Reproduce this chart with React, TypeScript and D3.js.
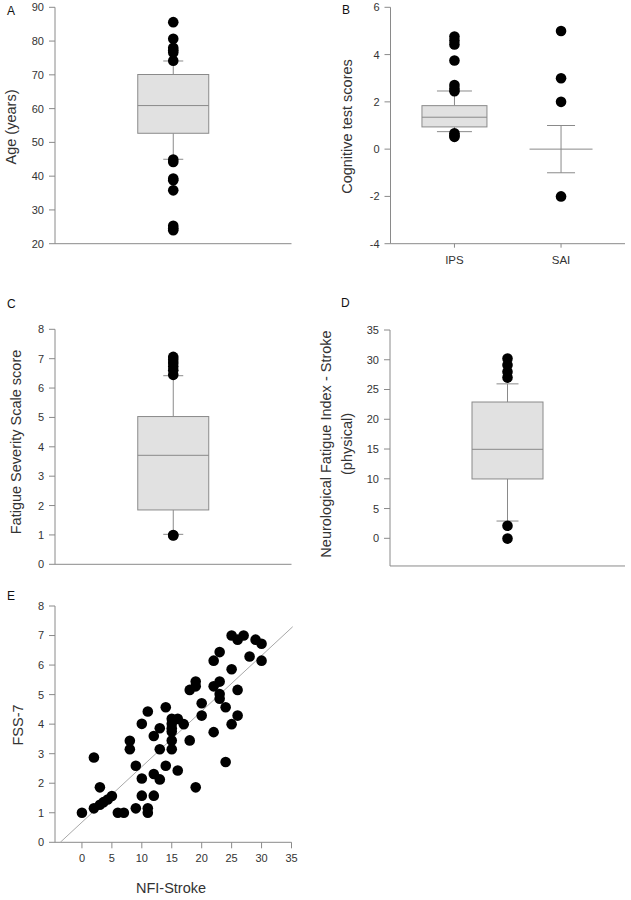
import React from "react";
import * as d3 from "d3";

const FONT = '"Liberation Sans", Arial, Helvetica, sans-serif';
const AXIS = "#8a8a8a";
const TEXT = "#333333";
const BOX_FILL = "#e1e1e1";

// Panel A: Age
const ageTicks = [20, 30, 40, 50, 60, 70, 80, 90];
const ageBox = [45.0, 52.7, 60.9, 70.1, 74.1]; // low whisker, Q1, median, Q3, high whisker
const ageOutliers = [85.6, 80.7, 78.0, 77.3, 76.6, 74.2, 44.9, 44.2, 39.3, 38.8, 35.8, 25.3, 24.6, 24.0];

// Panel B: Cognitive test scores
const cogCategories = ["IPS", "SAI"];
const cogTicks = [-4, -2, 0, 2, 4, 6];
const ipsBox = [0.74, 0.94, 1.35, 1.84, 2.46];
const ipsOutliers = [4.76, 4.6, 4.43, 3.75, 2.71, 2.57, 2.45, 0.67, 0.58, 0.52];
const saiSummary = [-1, 0, 1]; // low, centre, high
const saiOutliers = [5, 3, 2, -2];

// Panel C: Fatigue Severity Scale
const fssTicks = [0, 1, 2, 3, 4, 5, 6, 7, 8];
const fssBox = [1.02, 1.85, 3.71, 5.03, 6.42];
const fssOutliers = [7.06, 6.96, 6.85, 6.73, 6.61, 6.45, 1.0, 0.98];

// Panel D: NFI-Stroke physical
const nfiTicks = [0, 5, 10, 15, 20, 25, 30, 35];
const nfiBox = [2.9, 9.97, 14.95, 22.9, 25.95];
const nfiOutliers = [30.2, 29.1, 28.0, 27.0, 2.1, -0.05];

// Panel E: scatter
const scatterXTicks = [0, 5, 10, 15, 20, 25, 30, 35];
const scatterYTicks = [0, 1, 2, 3, 4, 5, 6, 7, 8];
const scatterNFI = [
  0, 2, 2, 3, 3, 3.6, 4.3, 5, 6, 7, 8, 8, 9, 9, 10, 10, 10, 11, 11, 11, 12, 12, 12,
  13, 13, 13, 14, 14, 15, 15, 15, 15, 15, 15, 16, 16, 17, 18, 18, 19, 19, 19, 20, 20,
  22, 22, 22, 23, 23, 23, 23, 24, 24, 25, 25, 25, 26, 26, 26, 27, 28, 29, 30, 30,
];
const scatterFSS = [
  1.0, 2.87, 1.15, 1.86, 1.27, 1.36, 1.45, 1.57, 1.0, 1.0, 3.44, 3.15, 2.59, 1.15, 4.01, 2.16, 1.58, 4.43, 1.15, 1.0, 3.6, 2.31, 1.58,
  3.86, 3.15, 2.13, 4.57, 2.59, 4.18, 4.01, 3.86, 3.75, 3.45, 3.15, 4.18, 2.43, 4.0, 5.16, 3.45, 5.44, 5.28, 1.86, 4.71, 4.29,
  6.15, 5.28, 3.73, 6.44, 5.44, 5.02, 4.86, 4.57, 2.72, 7.0, 5.86, 4.0, 6.86, 5.16, 4.29, 7.0, 6.29, 6.86, 6.72, 6.15,
];
const fitIntercept = 0.68;
const fitSlope = 0.188;

type Sc = d3.ScaleLinear<number, number>;

function YAxis({ scale, ticks, x, top, bottom }: { scale: Sc; ticks: number[]; x: number; top: number; bottom: number }) {
  return (
    <g>
      <line x1={x} x2={x} y1={top} y2={bottom} stroke={AXIS} strokeWidth={1} />
      {ticks.map((t) => (
        <g key={t}>
          <line x1={x - 6} x2={x} y1={scale(t)} y2={scale(t)} stroke={AXIS} strokeWidth={1} />
          <text x={x - 11} y={scale(t)} dy="0.36em" textAnchor="end" fontSize={11} fill={TEXT} fontFamily={FONT}>
            {t}
          </text>
        </g>
      ))}
    </g>
  );
}

function PanelLetter({ x, y, label }: { x: number; y: number; label: string }) {
  return (
    <text x={x} y={y} fontSize={12} fill="#111" fontFamily={FONT}>
      {label}
    </text>
  );
}

function YTitle({ x, y, lines }: { x: number; y: number; lines: { text: string; dx: number }[] }) {
  return (
    <g>
      {lines.map((l, i) => (
        <text
          key={i}
          transform={`translate(${x + l.dx},${y}) rotate(-90)`}
          textAnchor="middle"
          dy="0.35em"
          fontSize={14.5}
          fill={TEXT}
          fontFamily={FONT}
        >
          {l.text}
        </text>
      ))}
    </g>
  );
}

function BoxPlot({ cx, half, cap, stats, outliers, y, r }: { cx: number; half: number; cap: number; stats: number[]; outliers: number[]; y: Sc; r: number }) {
  const [lo, q1, med, q3, hi] = stats;
  return (
    <g>
      <line x1={cx} x2={cx} y1={y(hi)} y2={y(q3)} stroke={AXIS} />
      <line x1={cx} x2={cx} y1={y(q1)} y2={y(lo)} stroke={AXIS} />
      <line x1={cx - cap} x2={cx + cap} y1={y(hi)} y2={y(hi)} stroke={AXIS} />
      <line x1={cx - cap} x2={cx + cap} y1={y(lo)} y2={y(lo)} stroke={AXIS} />
      <rect x={cx - half} y={y(q3)} width={half * 2} height={y(q1) - y(q3)} fill={BOX_FILL} stroke={AXIS} />
      <line x1={cx - half} x2={cx + half} y1={y(med)} y2={y(med)} stroke={AXIS} />
      {outliers.map((v, i) => (
        <circle key={i} cx={cx} cy={y(v)} r={r} fill="#000" />
      ))}
    </g>
  );
}

export default function App() {
  // Panel A
  const axA = 55;
  const xRightA = 291.5;
  const yA = d3.scaleLinear().domain([20, 90]).range([243.7, 7.3]);
  const cxA = (axA + xRightA) / 2;

  // Panel B
  const axB = 390.5;
  const xRightB = 625;
  const yB = d3.scaleLinear().domain([-4, 6]).range([243.7, 7.3]);
  const xB = d3.scalePoint<string>().domain(cogCategories).range([axB, xRightB]).padding(0.6);
  const ipsX = xB("IPS") as number;
  const saiX = xB("SAI") as number;

  // Panel C
  const yC = d3.scaleLinear().domain([0, 8]).range([564.3, 329.3]);
  const cxC = (axA + xRightA) / 2;

  // Panel D
  const axD = 390;
  const yD = d3.scaleLinear().domain([0, 35]).range([538.3, 330]);
  const dBottom = yD(-4.65);
  const cxD = (axD + xRightB) / 2;

  // Panel E
  const yE = d3.scaleLinear().domain([0, 8]).range([842.3, 606]);
  const xE = d3.scaleLinear().domain([-4.5, 35]).range([axA, xRightA]);
  const fitX0 = -fitIntercept / fitSlope;
  const fitX1 = 35.2;
  const fitLine = d3
    .line<number>()
    .x((d) => xE(d))
    .y((d) => yE(fitIntercept + fitSlope * d))([fitX0, fitX1]);

  const R = 5.3;

  return (
    <svg
      width={631}
      height={900}
      viewBox="0 0 631 900"
      style={{ position: "absolute", left: 0, top: 0, background: "#fff" }}
      fontFamily={FONT}
    >
      <rect x={0} y={0} width={631} height={900} fill="#fff" />

      {/* Panel A */}
      <PanelLetter x={7} y={14.5} label="A" />
      <YAxis scale={yA} ticks={ageTicks} x={axA} top={yA(90)} bottom={yA(20)} />
      <line x1={axA} x2={xRightA} y1={yA(20)} y2={yA(20)} stroke={AXIS} />
      <YTitle x={11} y={127} lines={[{ text: "Age (years)", dx: 0 }]} />
      <BoxPlot cx={cxA} half={35.5} cap={10} stats={ageBox} outliers={ageOutliers} y={yA} r={R} />

      {/* Panel B */}
      <PanelLetter x={342} y={14} label="B" />
      <YAxis scale={yB} ticks={cogTicks} x={axB} top={yB(6)} bottom={yB(-4)} />
      <line x1={axB} x2={xRightB} y1={yB(-4)} y2={yB(-4)} stroke={AXIS} />
      {cogCategories.map((c) => (
        <g key={c}>
          <line x1={xB(c)} x2={xB(c)} y1={yB(-4)} y2={yB(-4) + 4} stroke={AXIS} />
          <text x={xB(c)} y={264} textAnchor="middle" fontSize={11.5} fill={TEXT} fontFamily={FONT}>
            {c}
          </text>
        </g>
      ))}
      <YTitle x={347} y={126.5} lines={[{ text: "Cognitive test scores", dx: 0 }]} />
      <BoxPlot cx={ipsX} half={32.5} cap={17.5} stats={ipsBox} outliers={ipsOutliers} y={yB} r={R} />
      <g>
        <line x1={saiX} x2={saiX} y1={yB(saiSummary[2])} y2={yB(saiSummary[0])} stroke={AXIS} />
        <line x1={saiX - 14} x2={saiX + 14} y1={yB(saiSummary[2])} y2={yB(saiSummary[2])} stroke={AXIS} />
        <line x1={saiX - 14} x2={saiX + 14} y1={yB(saiSummary[0])} y2={yB(saiSummary[0])} stroke={AXIS} />
        <line x1={saiX - 31.5} x2={saiX + 31.5} y1={yB(saiSummary[1])} y2={yB(saiSummary[1])} stroke={AXIS} />
        {saiOutliers.map((v, i) => (
          <circle key={i} cx={saiX} cy={yB(v)} r={R} fill="#000" />
        ))}
      </g>

      {/* Panel C */}
      <PanelLetter x={7} y={308} label="C" />
      <YAxis scale={yC} ticks={fssTicks} x={axA} top={yC(8)} bottom={yC(0)} />
      <line x1={axA} x2={xRightA} y1={yC(0)} y2={yC(0)} stroke={AXIS} />
      <YTitle x={15.5} y={442} lines={[{ text: "Fatigue Severity Scale score", dx: 0 }]} />
      <BoxPlot cx={cxC} half={35.5} cap={10} stats={fssBox} outliers={fssOutliers} y={yC} r={R} />

      {/* Panel D */}
      <PanelLetter x={341} y={306.5} label="D" />
      <YAxis scale={yD} ticks={nfiTicks} x={axD} top={yD(35)} bottom={dBottom} />
      <line x1={axD} x2={xRightB} y1={dBottom} y2={dBottom} stroke={AXIS} />
      <YTitle
        x={325.5}
        y={444}
        lines={[
          { text: "Neurological Fatigue Index - Stroke", dx: 0 },
          { text: "(physical)", dx: 21.5 },
        ]}
      />
      <BoxPlot cx={cxD} half={35.5} cap={11} stats={nfiBox} outliers={nfiOutliers} y={yD} r={R} />

      {/* Panel E */}
      <PanelLetter x={7} y={600} label="E" />
      <YAxis scale={yE} ticks={scatterYTicks} x={axA} top={yE(8)} bottom={yE(0)} />
      <line x1={axA} x2={xRightA} y1={yE(0)} y2={yE(0)} stroke={AXIS} />
      {scatterXTicks.map((t) => (
        <g key={t}>
          <line x1={xE(t)} x2={xE(t)} y1={yE(0)} y2={yE(0) + 6} stroke={AXIS} />
          <text x={xE(t)} y={862} textAnchor="middle" fontSize={11} fill={TEXT} fontFamily={FONT}>
            {t}
          </text>
        </g>
      ))}
      <text x={171} y={893} textAnchor="middle" fontSize={14.5} fill={TEXT} fontFamily={FONT}>
        NFI-Stroke
      </text>
      <YTitle x={17.5} y={725} lines={[{ text: "FSS-7", dx: 0 }]} />
      <path d={fitLine ?? ""} stroke="#a8a8a8" strokeWidth={1} fill="none" />
      {scatterNFI.map((v, i) => (
        <circle key={i} cx={xE(v)} cy={yE(scatterFSS[i])} r={R} fill="#000" />
      ))}
    </svg>
  );
}
